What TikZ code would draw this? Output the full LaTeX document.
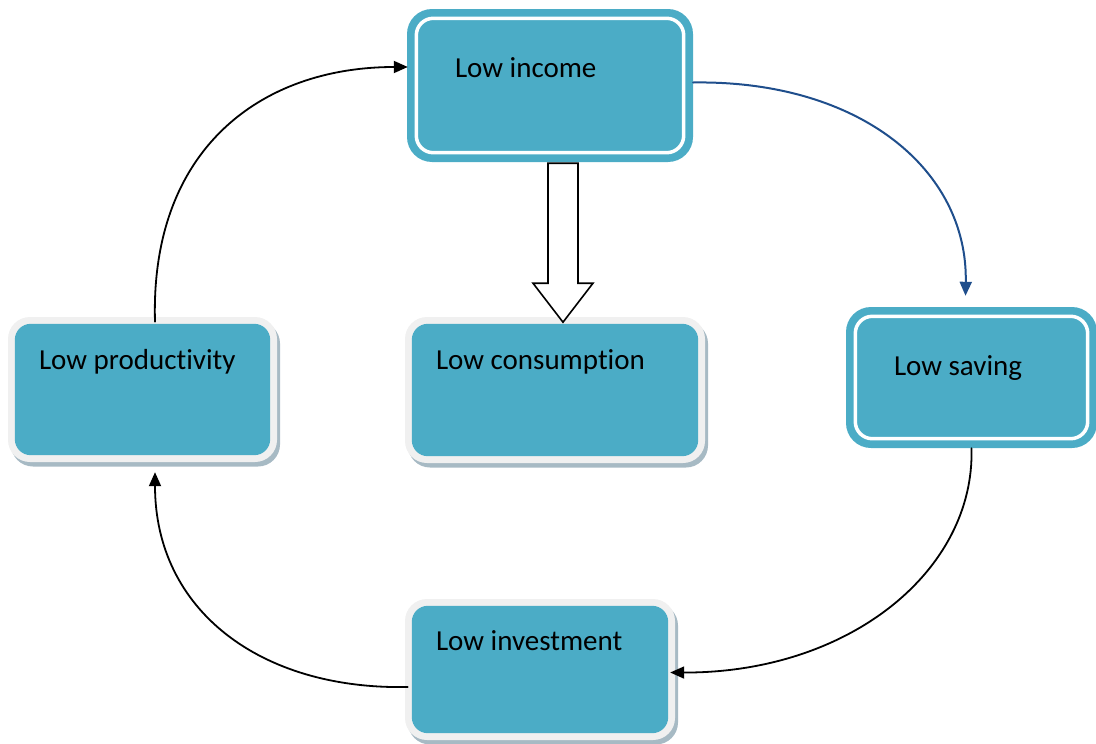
\documentclass[tikz,border=0pt]{standalone}
\usepackage{fontspec}
\setmainfont{Carlito}[Ligatures=NoCommon]
\usetikzlibrary{calc,arrows.meta,shadows}
\definecolor{boxteal}{HTML}{4BACC6}
\definecolor{rimgray}{HTML}{F0F0F0}
\definecolor{shadowblue}{HTML}{A7BAC4}
\definecolor{linkblue}{HTML}{1F4E8C}

\begin{document}
\begin{tikzpicture}[x=1pt,y=-1pt,line cap=round,line join=round,
  font=\fontsize{29}{34}\selectfont,
  ringbox/.style={fill=boxteal,rounded corners=25pt,inner sep=0pt},
  plainbox/.style={fill=rimgray,rounded corners=22pt,inner sep=0pt,
    drop shadow={shadow xshift=3pt,shadow yshift=-4.5pt,fill=shadowblue,opacity=1}},
  lab/.style={inner sep=0pt,anchor=base west},
  link/.style={line width=1.8pt,-{Triangle[length=14pt,width=12pt]}}]
  \path[use as bounding box] (0,0) rectangle (1096,744);
  % the five boxes of the cycle
  \node[ringbox,minimum width=286pt,minimum height=153pt] (inc) at (550,85.5) {};
  \node[ringbox,minimum width=251pt,minimum height=141pt] (sav) at (971.5,377.5) {};
  \node[plainbox,minimum width=269pt,minimum height=145pt] (prod) at (142.5,389.5) {};
  \node[plainbox,minimum width=300pt,minimum height=146pt] (cons) at (555,390) {};
  \node[plainbox,minimum width=270pt,minimum height=141pt] (inv) at (540,669.5) {};
  \foreach \b in {inc,sav}
    \draw[white,line width=3.5pt,rounded corners=17pt]
      ($(\b.north west)+(9.5,9.5)$) rectangle ($(\b.south east)+(-9.5,-9.5)$);
  \foreach \b in {prod,cons,inv}
    \fill[boxteal,rounded corners=16pt]
      ($(\b.north west)+(7,7)$) rectangle ($(\b.south east)+(-7,-7)$);
  \node[lab] (tinc) at ($(inc.north west)+(48,69)$) {Low income};
  \node[lab] (tsav) at ($(sav.north west)+(48,69)$) {Low saving};
  \node[lab] (tprod) at ($(prod.north west)+(31,53)$) {Low productivity};
  \node[lab] (tcons) at ($(cons.north west)+(31,53)$) {Low consumption};
  \node[lab] (tinv) at ($(inv.north west)+(31,52)$) {Low investment};
  % curved links round the cycle
  \draw[link,linkblue,line width=2pt] ($(inc.east)+(0,-3)$)
    .. controls (860,80) and (968,170) .. ($(sav.north)+(-6,-11)$);
  \draw[link] (sav.south)
    .. controls (975,570) and (850,673) .. ($(inv.east)+(-5,3)$);
  \draw[link] ($(inv.west)+(3,17.5)$)
    .. controls (260,690) and (155,610) .. ($(prod.south)+(12.5,10)$);
  \draw[link] ($(prod.north)+(12.5,5)$)
    .. controls (150,150) and (260,67) .. ($(inc.west)+(1,-18.5)$);
  % hollow block arrow down to consumption
  \coordinate (blk) at ($(inc.south)+(13,1)$);
  \draw[line width=1.6pt,line join=miter,fill=white] ($(blk)+(-15,0)$) -- ($(blk)+(15,0)$)
    -- ($(blk)+(15,120)$) -- ($(blk)+(30,120)$) -- ($(blk)+(0,159)$)
    -- ($(blk)+(-30,120)$) -- ($(blk)+(-15,120)$) -- cycle;
\end{tikzpicture}
\end{document}
